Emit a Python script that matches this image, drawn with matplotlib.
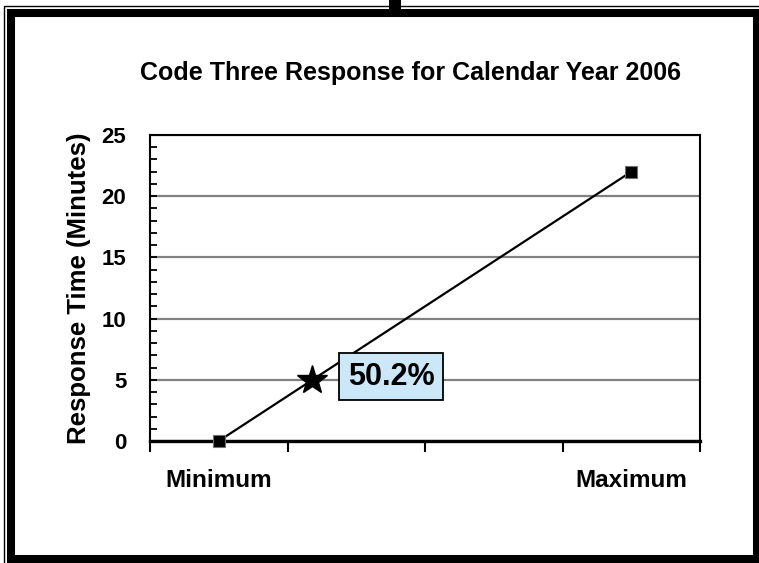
import matplotlib
matplotlib.use('Agg')
import matplotlib.pyplot as plt
from matplotlib.patches import Rectangle
from matplotlib.ticker import MultipleLocator

# ---- data ----
categories = ['Minimum', '', '', 'Maximum']
cat_pos = [1, 2, 3, 4]
line_x = [1, 4]
line_y = [0, 22]
star_x = [1.68]
star_y = [5]
star_label = '50.2%'
y_ticks = [0, 5, 10, 15, 20, 25]
title = 'Code Three Response for Calendar Year 2006'
ylabel = 'Response Time (Minutes)'

plt.rcParams['font.family'] = ['Liberation Sans', 'DejaVu Sans']
W, H = 759, 563
fig = plt.figure(figsize=(W / 100, H / 100), dpi=100)

# background frame
bg = fig.add_axes([0, 0, 1, 1])
bg.set_xlim(0, W)
bg.set_ylim(H, 0)
bg.axis('off')
bg.add_patch(Rectangle((3.5, 5.5), 1000, 1000, fill=False, edgecolor='black', lw=1.0))
bg.add_patch(Rectangle((11, 13), 757 - 11, 559 - 13, fill=False, edgecolor='black',
                       lw=5.8, joinstyle='miter'))
bg.add_patch(Rectangle((389, 0), 12, 13, facecolor='black', edgecolor='none'))

fig.text(410 / W, 1 - 73 / H, title, ha='center', va='center', fontsize=18,
         fontweight='bold')

ax = fig.add_axes([150 / W, (H - 441) / H, 550 / W, 306 / H])
ax.set_xlim(0.5, 4.5)
ax.set_ylim(0, 25)

ax.plot(line_x, line_y, color='black', lw=1.6, marker='s', markersize=8,
        markerfacecolor='black', markeredgecolor='#707070', markeredgewidth=0.8,
        zorder=3, clip_on=False)
ax.plot(star_x, star_y, linestyle='none', marker='*', markersize=22, color='black',
        zorder=4)
ax.annotate(star_label, xy=(star_x[0], star_y[0]), xytext=(79, 3),
            textcoords='offset pixels', ha='center', va='center', fontsize=22,
            fontweight='bold',
            bbox=dict(boxstyle='square,pad=0.28', facecolor='#cce8f8',
                      edgecolor='black', lw=1.3), zorder=5)

ax.set_yticks(y_ticks)
ax.yaxis.set_minor_locator(MultipleLocator(1))
ax.tick_params(axis='y', which='both', direction='in', length=5, width=1.3,
               labelsize=16, pad=17)
for lab in ax.get_yticklabels():
    lab.set_fontweight('bold')
ax.yaxis.grid(True, which='major', color='#808080', lw=1.6)
ax.set_axisbelow(True)

ax.set_xticks([0.5, 1.5, 2.5, 3.5, 4.5])
ax.set_xticklabels([])
ax.set_xticks(cat_pos, minor=True)
ax.set_xticklabels(categories, minor=True, fontsize=17.5, fontweight='bold')
ax.tick_params(axis='x', which='major', direction='out', length=8, width=1.5)
ax.tick_params(axis='x', which='minor', length=0, pad=20)

for s in ['left', 'right', 'top']:
    ax.spines[s].set_linewidth(1.5)
    ax.spines[s].set_color('black')
ax.spines['bottom'].set_linewidth(2.4)

ax.set_ylabel(ylabel, fontsize=18.5, fontweight='bold', labelpad=8)

fig.savefig('out.png', dpi=100)
